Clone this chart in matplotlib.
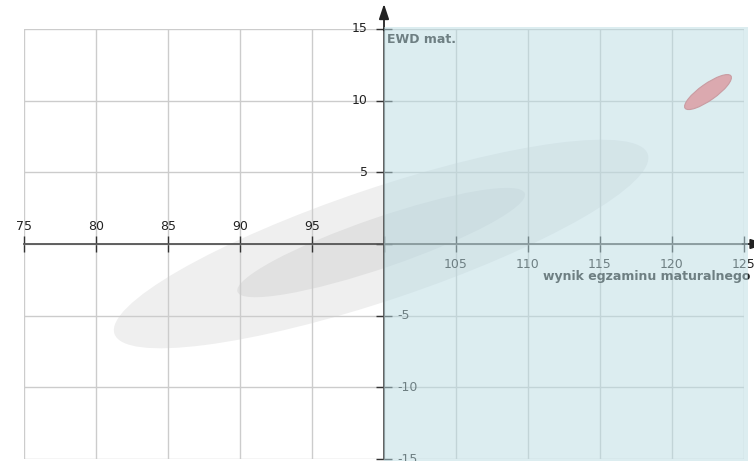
import matplotlib
matplotlib.use("Agg")
import matplotlib.pyplot as plt
from matplotlib.patches import Ellipse, Rectangle
from matplotlib.transforms import offset_copy

# axis ranges / ticks
x_ticks = [75, 80, 85, 90, 95, 100, 105, 110, 115, 120, 125]
y_ticks = [-15, -10, -5, 0, 5, 10, 15]
x_origin = 100
y_origin = 0

# ellipses: big gray, small gray, red (centre, full width/height, angle)
ell_x = [99.8, 99.8, 122.5]
ell_y = [0.0, 0.1, 10.6]
ell_w = [39.1, 21.1, 3.9]
ell_h = [7.8, 3.5, 1.15]
ell_ang = [18.7, 19.0, 35.3]
ell_col = ['#efefef', '#e1e1e1', '#dba9af']

xlabel = 'wynik egzaminu maturalnego'
ylabel = 'EWD mat.'

fig = plt.figure(figsize=(7.54, 4.61), dpi=100)
ax = fig.add_axes([24/754, 2/461, 720/754, 430/461])
ax.set_xlim(75, 125)
ax.set_ylim(-15, 15)
ax.set_xticks(x_ticks)
ax.set_yticks(y_ticks)
ax.set_axisbelow(True)
ax.grid(True, color='#cccccc', linewidth=1)

for s in ['top', 'right']:
    ax.spines[s].set_visible(False)
ax.spines['left'].set_position(('data', x_origin))
ax.spines['bottom'].set_position(('data', y_origin))
for s in ['left', 'bottom']:
    ax.spines[s].set_color('#555555')
    ax.spines[s].set_linewidth(1.3)
ax.tick_params(direction='inout', length=12, width=1, color='#333333',
               labelleft=False, labelbottom=False)

# ellipses under the grid lines
for i in range(2):
    ax.add_patch(Ellipse((ell_x[i], ell_y[i]), ell_w[i], ell_h[i], angle=ell_ang[i],
                         facecolor=ell_col[i], edgecolor='none', zorder=0.3))

# tick labels placed away from the shaded quadrant
fs = 9
for t in x_ticks:
    if t < x_origin:
        tr = offset_copy(ax.transData, fig=fig, x=0, y=11, units='dots')
        ax.text(t, y_origin, str(t), transform=tr, ha='center', va='bottom',
                fontsize=fs, color='#222222', clip_on=False)
    elif t > x_origin:
        tr = offset_copy(ax.transData, fig=fig, x=0, y=-14, units='dots')
        ax.text(t, y_origin, str(t), transform=tr, ha='center', va='top',
                fontsize=fs, color='#222222', clip_on=False)
for t in y_ticks:
    if t > y_origin:
        tr = offset_copy(ax.transData, fig=fig, x=-16, y=0, units='dots')
        ax.text(x_origin, t, str(t), transform=tr, ha='right', va='center',
                fontsize=fs, color='#222222', clip_on=False)
    elif t < y_origin:
        tr = offset_copy(ax.transData, fig=fig, x=13, y=0, units='dots')
        ax.text(x_origin, t, str(t), transform=tr, ha='left', va='center',
                fontsize=fs, color='#222222', clip_on=False)

# axis arrows
ax.annotate('', xy=(x_origin, 16.75), xytext=(x_origin, 14.9), annotation_clip=False,
            arrowprops=dict(arrowstyle='-|>,head_length=0.9,head_width=0.3',
                            color='#222222', lw=1.3, shrinkA=0, shrinkB=0))
ax.annotate('', xy=(126.5, y_origin), xytext=(124.9, y_origin), annotation_clip=False,
            arrowprops=dict(arrowstyle='-|>,head_length=0.9,head_width=0.3',
                            color='#222222', lw=1.3, shrinkA=0, shrinkB=0))

# axis titles
tr = offset_copy(ax.transData, fig=fig, x=3, y=-4, units='dots')
ax.text(x_origin, 15, ylabel, transform=tr, ha='left', va='top',
        fontsize=9, fontweight='bold', color='#222222', clip_on=False)
tr = offset_copy(ax.transData, fig=fig, x=6, y=-26, units='dots')
ax.text(125, y_origin, xlabel, transform=tr, ha='right', va='top',
        fontsize=9, fontweight='bold', color='#222222', clip_on=False)

# shaded quadrant drawn over everything except the red ellipse
ax.add_patch(Rectangle((x_origin, -15.3), 25.3, 30.42, facecolor='#badce3',
                       edgecolor='none', alpha=0.5, zorder=5, clip_on=False))

ax.add_patch(Ellipse((ell_x[2], ell_y[2]), ell_w[2], ell_h[2], angle=ell_ang[2],
                     facecolor=ell_col[2], edgecolor='#c99ca2', linewidth=0.8, zorder=6))

fig.savefig('out.png', dpi=100)
